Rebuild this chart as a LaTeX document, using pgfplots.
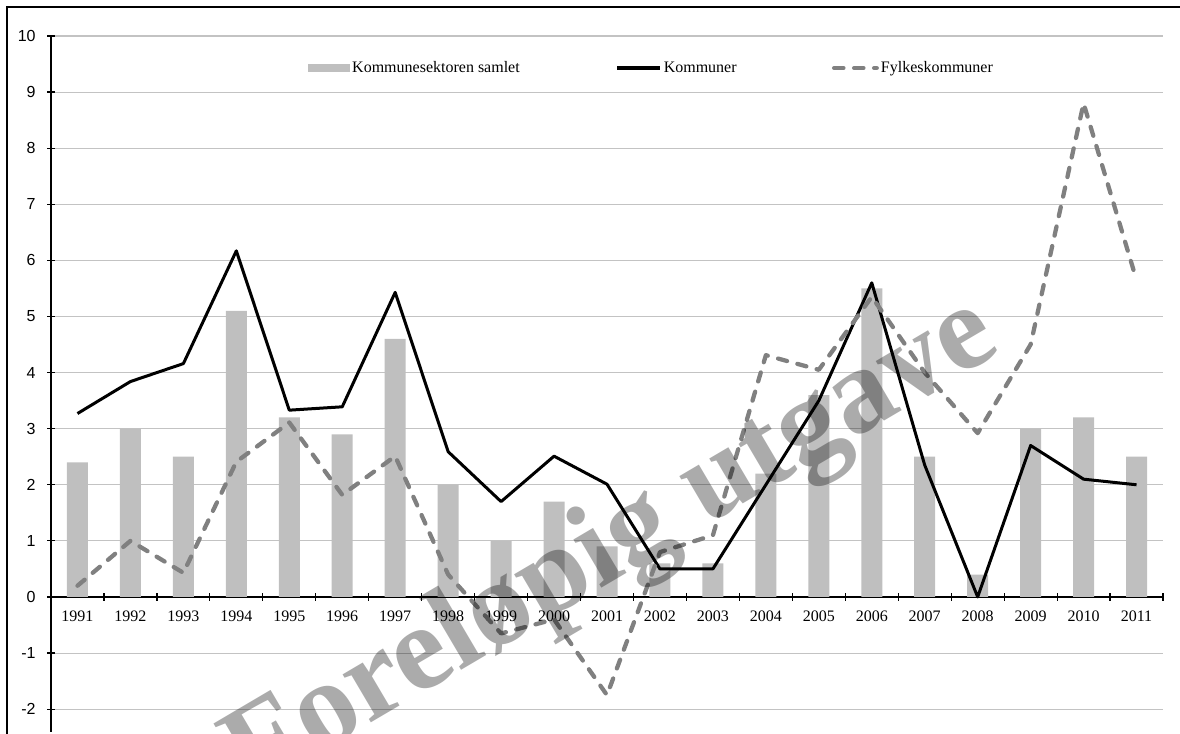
\documentclass[border=0pt]{standalone}
\usepackage{fontspec}
\setmainfont{Liberation Serif}
\newfontfamily\arialf{Liberation Sans}
\usepackage{pgfplots}
\pgfplotsset{compat=1.18}
\definecolor{barc}{RGB}{191,191,191}
\definecolor{dashc}{RGB}{128,128,128}
\definecolor{gridc}{RGB}{195,195,195}
\begin{document}
\begin{tikzpicture}
\useasboundingbox (0,0) rectangle (885pt,549.75pt);
\clip (0,0) rectangle (885pt,549.75pt);
\draw[line width=1.5pt] (5.25pt,-30pt) -- (5.25pt,544.5pt) -- (920pt,544.5pt);
\begin{axis}[
  at={(38.25pt,1.05pt)}, anchor=south west,
  scale only axis, width=834pt, height=521.7pt,
  xmin=-0.5, xmax=20.5, ymin=-2.4, ymax=10,
  axis x line*=middle, axis y line*=left,
  axis line style={line width=0.9pt, black},
  tick align=center, major tick length=6pt,
  tick style={line width=0.9pt, black},
  xtick={0.5,1.5,...,20.5}, xticklabels={},
  extra x ticks={0,1,...,20},
  extra x tick labels={1991,1992,1993,1994,1995,1996,1997,1998,1999,2000,2001,2002,2003,2004,2005,2006,2007,2008,2009,2010,2011},
  extra x tick style={major tick length=0pt, grid=none},
  xticklabel style={font=\fontsize{12}{13}\selectfont, yshift=-7pt},
  ytick={-2,-1,...,10},
  yticklabels={-2,-1,0,1,2,3,4,5,6,7,8,9,10},
  yticklabel style={font=\arialf\fontsize{12}{13}\selectfont, xshift=-5pt},
  ymajorgrids, grid style={gridc, line width=0.8pt},
  legend columns=-1,
  legend style={at={(0.2311,0.954)}, anchor=west, draw=none, fill=none,
    inner sep=0pt, font=\fontsize{12}{13}\selectfont,
    nodes={inner sep=1.5pt},
    /tikz/every even column/.append style={column sep=70pt}},
]
\addplot[ybar, bar width=15.75pt, fill=barc, draw=none,
  legend image code/.code={\fill[barc] (0pt,-3pt) rectangle (31.5pt,3pt);}]
  coordinates {(0,2.4) (1,3.0) (2,2.5) (3,5.1) (4,3.2) (5,2.9) (6,4.6) (7,2.0) (8,1.0) (9,1.7) (10,0.9) (11,0.6) (12,0.6) (13,2.2) (14,3.6) (15,5.5) (16,2.5) (17,0.4) (18,3.0) (19,3.2) (20,2.5)};
\addlegendentry{Kommunesektoren samlet}
\addplot[black, line width=2.25pt, line join=round,
  legend image code/.code={\draw[line width=3pt] (0pt,0pt) -- (32pt,0pt);}]
  coordinates {(0,3.27) (1,3.84) (2,4.16) (3,6.17) (4,3.33) (5,3.39) (6,5.43) (7,2.59) (8,1.70) (9,2.51) (10,2.01) (11,0.5) (12,0.5) (13,2.0) (14,3.5) (15,5.6) (16,2.35) (17,0.0) (18,2.7) (19,2.1) (20,2.0)};
\addlegendentry{Kommuner}
\addplot[dashc, line width=3.2pt, line join=round, line cap=round, dash pattern=on 7pt off 8pt,
  legend image code/.code={\draw (0pt,0pt) -- (32pt,0pt);}]
  coordinates {(0,0.2) (1,1.0) (2,0.43) (3,2.41) (4,3.11) (5,1.82) (6,2.51) (7,0.4) (8,-0.65) (9,-0.4) (10,-1.75) (11,0.8) (12,1.1) (13,4.31) (14,4.05) (15,5.35) (16,4.0) (17,2.92) (18,4.5) (19,8.8) (20,5.65)};
\addlegendentry{Fylkeskommuner}
\end{axis}
\node[rotate=30.5, text=black, text opacity=0.33, font=\bfseries\fontsize{91}{91}\selectfont] at (460pt,139pt) {Foreløpig utgave};
\end{tikzpicture}
\end{document}
